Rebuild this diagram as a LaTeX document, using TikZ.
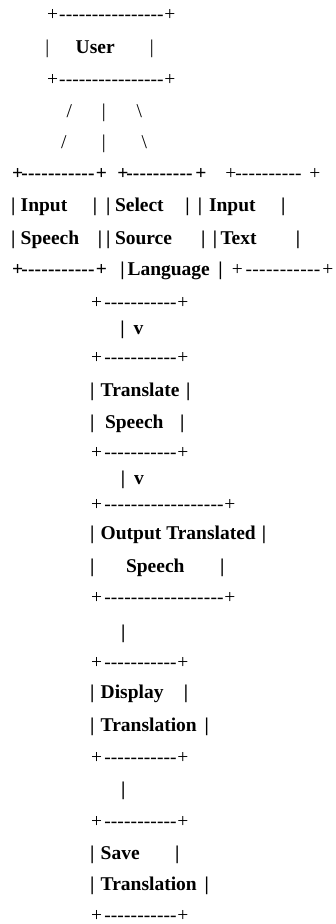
\documentclass[tikz,border=0pt]{standalone}
\usepackage{fontspec}
\setmainfont{Liberation Serif}
\newcommand{\fsz}{\fontsize{19.5}{20}\selectfont}
\newcounter{fragc}
\tikzset{
  frag/.style={anchor=base west, inner sep=0pt, outer sep=0pt, font=\fsz},
  lbl/.style={frag, font=\fsz\bfseries},
}
% plus, ink-left x
\newcommand{\pl}[3][frag]{\stepcounter{fragc}\node[#1] (f\arabic{fragc}) at ({#2-0.6},#3) {+};}
% bar centred at x
\newcommand{\br}[3][lbl]{\stepcounter{fragc}\node[#1] (f\arabic{fragc}) at ({#2-2.1},#3) {|};}
% run of dashes from ink x1 to ink x2
\newcommand{\ds}[4][frag]{\stepcounter{fragc}\node[#1] (f\arabic{fragc}) at ({#2-0.8},#4) {\hbox to \dimexpr #3pt-#2pt+1.6pt\relax{\xleaders\hbox{-}\hfill}};}
% text at ink-left x
\newcommand{\tx}[4][lbl]{\stepcounter{fragc}\node[#1] (f\arabic{fragc}) at (#2,#3) {#4};}
% box borders "+ -----+"
\newcommand{\sbord}[1]{\pl{91.7}{#1}\ds{105}{176}{#1}\pl{178}{#1}}
\newcommand{\lbord}[1]{\pl{91.7}{#1}\ds{105}{223}{#1}\pl{225}{#1}}
\begin{document}
\begin{tikzpicture}[x=1pt,y=-1pt]
\path[fill=white] (0,0) rectangle (336,924);
\useasboundingbox (0,0) rectangle (336,924);
% User box
\pl{47.7}{20.5}\ds{60}{163}{20.5}\pl{165}{20.5}
\br[frag]{47.5}{53.5}\tx{75.7}{53.5}{User}\br[frag]{152}{53.5}
\pl{47.7}{85.5}\ds{60}{163}{85.5}\pl{165}{85.5}
% branches
\tx[frag]{66.5}{117}{/}\br[frag]{104}{117}\tx[frag]{136.5}{117}{\textbackslash}
\tx[frag]{61}{148.5}{/}\br[frag]{104}{148.5}\tx[frag]{141.5}{148.5}{\textbackslash}
% three boxes
\pl[lbl]{12.7}{179.5}\ds[lbl]{22}{94}{179.5}\pl[lbl]{96.5}{179.5}
\pl[lbl]{118}{179.5}\ds[lbl]{127}{192}{179.5}\pl[lbl]{196}{179.5}
\pl{226}{179.5}\ds{236}{301}{179.5}\pl{310}{179.5}
\br{13.3}{211}\tx{20.7}{211}{Input}\br{95}{211}
\br{108.3}{211}\tx{115}{211}{Select}\br{187.5}{211}
\br{200}{211}\tx{209}{211}{Input}\br{283.3}{211}
\br{13.3}{244}\tx{20.7}{244}{Speech}\br{100}{244}
\br{108.3}{244}\tx{115}{244}{Source}\br{203.3}{244}
\br{215}{244}\tx{220.5}{244}{Text}\br{298}{244}
\pl[lbl]{12.7}{275.5}\ds[lbl]{22}{94}{275.5}\pl[lbl]{96.5}{275.5}
\br{122.5}{275.5}\tx{127.5}{275.5}{Language}\br{220.5}{275.5}
\pl{232.5}{275.5}\ds{246}{320}{275.5}\pl{323}{275.5}
% column
\sbord{308}
\br{122.5}{334.5}\tx{133.5}{334.5}{v}
\sbord{363}
\br{92.3}{396}\tx{100.7}{396}{Translate}\br{188.3}{396}
\br{92.3}{428}\tx{105}{428}{Speech}\br{182.3}{428}
\sbord{458}
\br{123}{484}\tx{134}{484}{v}
\lbord{510}
\br{92.3}{539}\tx{100.7}{539}{Output Translated}\br{264}{539}
\br{92.3}{572}\tx{126}{572}{Speech}\br{222.3}{572}
\lbord{603}
\br{123.3}{638}
\sbord{668}
\br{92.3}{698}\tx{100.7}{698}{Display}\br{186}{698}
\br{92.3}{731}\tx{100.7}{731}{Translation}\br{206.7}{731}
\sbord{763}
\br{123.3}{795.5}
\sbord{827}
\br{92.3}{859}\tx{100.7}{859}{Save}\br{177.3}{859}
\br{92.3}{890}\tx{100.7}{890}{Translation}\br{206.7}{890}
\sbord{921}
\end{tikzpicture}
\end{document}
